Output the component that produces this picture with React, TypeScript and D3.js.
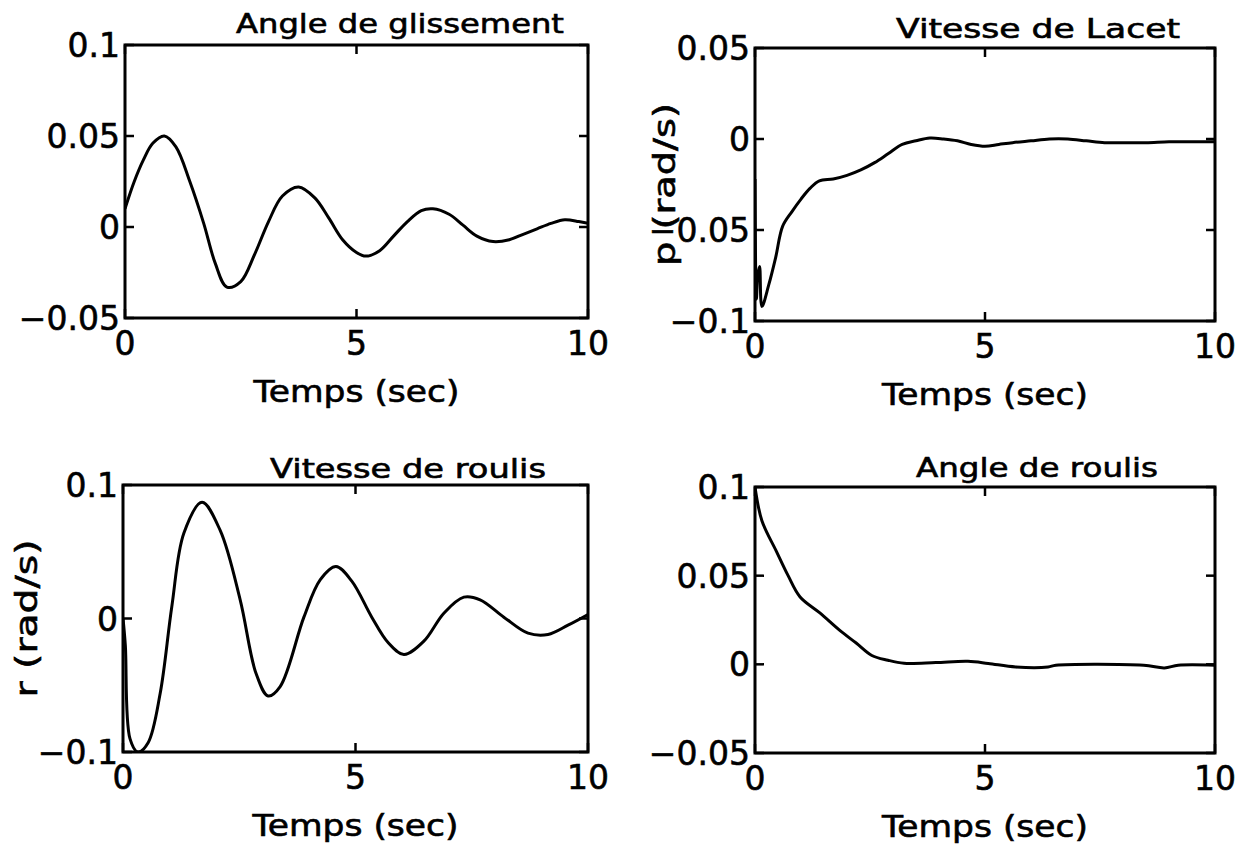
import React from "react";
import * as d3 from "d3";

// ---- Data ----
const glissementT = [0, 0.2, 0.4, 0.6, 0.85, 1.1, 1.4, 1.7, 1.95, 2.2, 2.5, 2.8, 3.1, 3.4, 3.75, 4.1, 4.4, 4.7, 5.0, 5.2, 5.5, 5.8, 6.1, 6.4, 6.65, 7.0, 7.3, 7.6, 7.95, 8.3, 8.6, 8.9, 9.2, 9.5, 9.8, 10];
const glissementV = [0.010, 0.025, 0.037, 0.046, 0.050, 0.044, 0.025, 0.002, -0.020, -0.033, -0.030, -0.015, 0.003, 0.017, 0.022, 0.016, 0.005, -0.007, -0.014, -0.016, -0.013, -0.005, 0.003, 0.009, 0.010, 0.007, 0.001, -0.005, -0.008, -0.007, -0.004, -0.001, 0.002, 0.004, 0.003, 0.002];

const lacetT = [0, 0.03, 0.06, 0.1, 0.15, 0.3, 0.45, 0.6, 0.8, 1.0, 1.2, 1.4, 1.7, 2.0, 2.3, 2.6, 2.9, 3.2, 3.5, 3.8, 4.1, 4.4, 4.7, 5.0, 5.3, 5.6, 6.0, 6.4, 6.8, 7.2, 7.6, 8.0, 8.5, 9.0, 9.5, 10];
const lacetV = [-0.022, -0.088, -0.075, -0.07, -0.092, -0.08, -0.065, -0.048, -0.040, -0.033, -0.027, -0.023, -0.022, -0.020, -0.017, -0.013, -0.008, -0.003, -0.001, 0.0005, 0.0, -0.001, -0.003, -0.004, -0.003, -0.002, -0.001, 0.0, 0.0, -0.001, -0.002, -0.002, -0.002, -0.0015, -0.0015, -0.0015];

const roulisRateT = [0, 0.05, 0.15, 0.32, 0.54, 0.8, 1.05, 1.31, 1.7, 2.09, 2.52, 2.86, 3.12, 3.38, 3.89, 4.24, 4.58, 4.92, 5.35, 5.7, 6.04, 6.47, 6.9, 7.33, 7.68, 8.19, 8.71, 9.14, 9.57, 10];
const roulisRateV = [0.0, -0.02, -0.09, -0.1, -0.093, -0.056, 0.009, 0.064, 0.087, 0.066, 0.014, -0.041, -0.058, -0.051, 0.001, 0.029, 0.039, 0.028, 0.001, -0.018, -0.027, -0.017, 0.004, 0.016, 0.014, 0.001, -0.011, -0.012, -0.005, 0.003];

const roulisAngleT = [0, 0.15, 0.46, 0.72, 0.98, 1.41, 1.85, 2.2, 2.54, 2.89, 3.24, 3.93, 4.63, 5.07, 5.67, 6.37, 6.54, 8.45, 8.9, 9.2, 10];
const roulisAngleV = [0.1, 0.081, 0.064, 0.050, 0.038, 0.029, 0.019, 0.012, 0.005, 0.0023, 0.0006, 0.001, 0.0017, 0.0005, -0.0015, -0.0015, -0.0005, -0.0005, -0.002, -0.0005, -0.0005];

const xTicks = [0, 5, 10];
const ticksGlissement = [-0.05, 0, 0.05, 0.1];
const ticksLacet = [-0.1, -0.05, 0, 0.05];
const ticksRoulisRate = [-0.1, 0, 0.1];
const ticksRoulisAngle = [-0.05, 0, 0.05, 0.1];

const titles = ["Angle de glissement", "Vitesse de Lacet", "Vitesse de roulis", "Angle de roulis"];
const xLabel = "Temps (sec)";
const yLabels = ["", "p (rad/s)", "r (rad/s)", ""];

// ---- Layout ----
const FONT = "'DejaVu Sans', sans-serif";

type Panel = {
  box: [number, number, number, number]; // x0, y0, x1, y1
  yDomain: [number, number];
  yTicks: number[];
  t: number[];
  v: number[];
  title: string;
  titleX: number;
  titleY: number;
  titleW: number;
  yLabel: string;
  yLabelX: number;
  yLabelW: number;
};

const panels: Panel[] = [
  { box: [125, 45, 588, 318], yDomain: [-0.05, 0.1], yTicks: ticksGlissement, t: glissementT, v: glissementV, title: titles[0], titleX: 400, titleY: 33, titleW: 328, yLabel: yLabels[0], yLabelX: 0, yLabelW: 0 },
  { box: [755, 48, 1215, 321], yDomain: [-0.1, 0.05], yTicks: ticksLacet, t: lacetT, v: lacetV, title: titles[1], titleX: 1038, titleY: 38, titleW: 284, yLabel: yLabels[1], yLabelX: 664, yLabelW: 163 },
  { box: [123, 485, 588, 752], yDomain: [-0.1, 0.1], yTicks: ticksRoulisRate, t: roulisRateT, v: roulisRateV, title: titles[2], titleX: 408, titleY: 478, titleW: 276, yLabel: yLabels[2], yLabelX: 26, yLabelW: 158 },
  { box: [755, 487, 1215, 753], yDomain: [-0.05, 0.1], yTicks: ticksRoulisAngle, t: roulisAngleT, v: roulisAngleV, title: titles[3], titleX: 1037, titleY: 477, titleW: 242, yLabel: yLabels[3], yLabelX: 0, yLabelW: 0 },
];

const fmt = d3.format("~g");
const TEXT_STROKE = 0.6;

function PanelView({ p }: { p: Panel }) {
  const [x0, y0, x1, y1] = p.box;
  const x = d3.scaleLinear().domain([0, 10]).range([x0, x1]);
  const y = d3.scaleLinear().domain(p.yDomain).range([y1, y0]);
  const pts = p.t.map((t, i) => [t, p.v[i]] as [number, number]);
  const line = d3
    .line<[number, number]>()
    .x((d) => x(d[0]))
    .y((d) => y(d[1]))
    .curve(d3.curveCatmullRom.alpha(0.5));
  const tick = 9;
  const clipId = `clip-${x0}-${y0}`;
  const textProps = { fontFamily: FONT, fill: "#000", stroke: "#000", strokeWidth: TEXT_STROKE };
  return (
    <g>
      <defs>
        <clipPath id={clipId}>
          <rect x={x0} y={y0 - 1} width={x1 - x0} height={y1 - y0 + 2} />
        </clipPath>
      </defs>
      <path d={line(pts) || ""} fill="none" stroke="#000" strokeWidth={3} strokeLinejoin="round" clipPath={`url(#${clipId})`} />
      <rect x={x0} y={y0} width={x1 - x0} height={y1 - y0} fill="none" stroke="#000" strokeWidth={3} />
      {xTicks.map((t) => (
        <g key={"xt" + t}>
          <line x1={x(t)} x2={x(t)} y1={y1} y2={y1 - tick} stroke="#000" strokeWidth={2.5} />
          <line x1={x(t)} x2={x(t)} y1={y0} y2={y0 + tick} stroke="#000" strokeWidth={2.5} />
          <text x={x(t)} y={y1 + 37} textAnchor="middle" fontSize={33} {...textProps}>
            {fmt(t)}
          </text>
        </g>
      ))}
      {p.yTicks.map((v) => (
        <g key={"yt" + v}>
          <line x1={x0} x2={x0 + tick} y1={y(v)} y2={y(v)} stroke="#000" strokeWidth={2.5} />
          <line x1={x1} x2={x1 - tick} y1={y(v)} y2={y(v)} stroke="#000" strokeWidth={2.5} />
          <text x={x0 - 5} y={y(v) + 12} textAnchor="end" fontSize={33} {...textProps}>
            {fmt(v)}
          </text>
        </g>
      ))}
      <text
        x={p.titleX - p.titleW / 2}
        y={p.titleY}
        textLength={p.titleW}
        lengthAdjust="spacingAndGlyphs"
        fontSize={26}
        {...textProps}
      >
        {p.title}
      </text>
      <text
        x={(x0 + x1) / 2 - 103}
        y={y1 + 84}
        textLength={206}
        lengthAdjust="spacingAndGlyphs"
        fontSize={30}
        {...textProps}
      >
        {xLabel}
      </text>
      {p.yLabel && (
        <text
          transform={`translate(${p.yLabelX},${(y0 + y1) / 2}) rotate(-90)`}
          x={-p.yLabelW / 2}
          dy="0.35em"
          textLength={p.yLabelW}
          lengthAdjust="spacingAndGlyphs"
          fontSize={30}
          {...textProps}
        >
          {p.yLabel}
        </text>
      )}
    </g>
  );
}

export default function App() {
  return (
    <svg width={1248} height={847} style={{ position: "absolute", left: 0, top: 0, background: "#fff" }}>
      <rect x={0} y={0} width={1248} height={847} fill="#fff" />
      {panels.map((p, i) => (
        <PanelView key={i} p={p} />
      ))}
    </svg>
  );
}
